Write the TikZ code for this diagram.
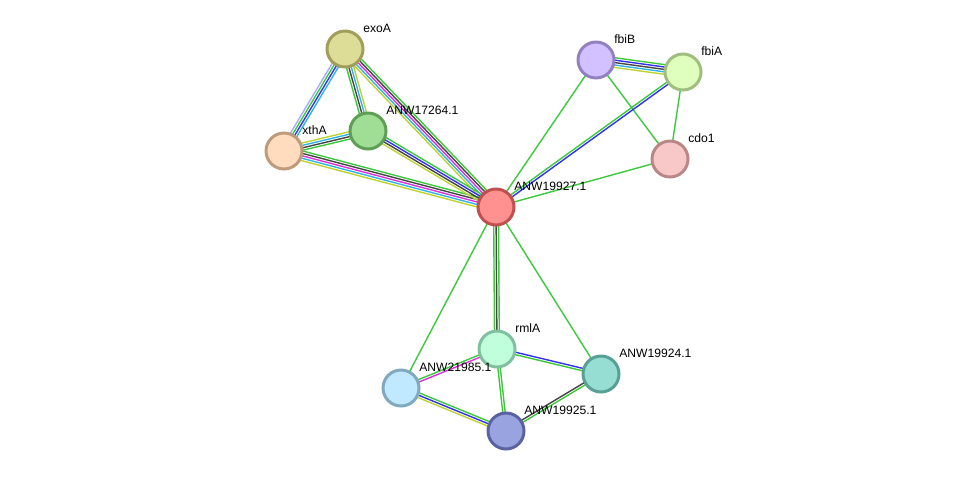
\documentclass[tikz,border=0pt]{standalone}
\usepackage{fontspec}
\setmainfont{Liberation Sans}
\usetikzlibrary{calc,backgrounds}

% evidence channel colours
\definecolor{evgreen}{RGB}{61,200,61}
\definecolor{evblue}{RGB}{50,50,240}
\definecolor{evblack}{RGB}{70,70,70}
\definecolor{evmagenta}{RGB}{220,50,220}
\definecolor{evcyan}{RGB}{50,180,230}
\definecolor{evyellow}{RGB}{190,210,50}
\definecolor{evlavender}{RGB}{170,170,255}
% protein fills and rims
\definecolor{exoAfill}{RGB}{222,221,151}    \definecolor{exoAdraw}{RGB}{160,158,90}
\definecolor{anwAfill}{RGB}{160,222,150}    \definecolor{anwAdraw}{RGB}{94,158,85}
\definecolor{xthAfill}{RGB}{255,220,190}    \definecolor{xthAdraw}{RGB}{190,155,125}
\definecolor{hubfill}{RGB}{255,145,145}     \definecolor{hubdraw}{RGB}{192,80,80}
\definecolor{fbiBfill}{RGB}{210,192,255}    \definecolor{fbiBdraw}{RGB}{146,128,192}
\definecolor{fbiAfill}{RGB}{222,255,190}    \definecolor{fbiAdraw}{RGB}{160,190,128}
\definecolor{cdofill}{RGB}{248,200,200}     \definecolor{cdodraw}{RGB}{185,135,135}
\definecolor{rmlAfill}{RGB}{192,255,220}    \definecolor{rmlAdraw}{RGB}{128,192,160}
\definecolor{anwBfill}{RGB}{192,232,255}    \definecolor{anwBdraw}{RGB}{128,168,192}
\definecolor{anwCfill}{RGB}{150,222,212}    \definecolor{anwCdraw}{RGB}{88,160,150}
\definecolor{anwDfill}{RGB}{153,163,224}    \definecolor{anwDdraw}{RGB}{90,98,160}

% one line per evidence colour, side by side
\newcommand\evlink[3]{%
  \foreach \col [count=\i] in {#3} {\xdef\nlines{\i}}%
  \foreach \col [count=\i] in {#3} {%
    \pgfmathsetmacro\off{(\i-(\nlines+1)/2)*1.37}%
    \draw[\col,evline] ($(#1.center)!\off pt!90:(#2.center)$) -- ($(#2.center)!\off pt!-90:(#1.center)$);
  }}

\begin{document}
\begin{tikzpicture}[x=0.02cm,y=-0.02cm,
  every node/.style={font=\fontsize{6.9}{8}\selectfont},
  prot/.style={circle,fill=#1fill,draw=#1draw,line width=1.7pt,minimum size=0.72cm,inner sep=0},
  lbl/.style={anchor=west,inner sep=0,xshift=0.36cm,yshift=0.03cm},
  evline/.style={line width=0.8pt}]
  \useasboundingbox (0,0) rectangle (976,477);
  \node[prot=exoA,label={[lbl]exoA}] (exoA) at (345,49) {};
  \node[prot=anwA,label={[lbl]ANW17264.1}] (anw17264) at (368,131) {};
  \node[prot=xthA,label={[lbl]xthA}] (xthA) at (284,151) {};
  \node[prot=hub,label={[lbl]ANW19927.1}] (anw19927) at (496,207) {};
  \node[prot=fbiB,label={[lbl]fbiB}] (fbiB) at (596,60) {};
  \node[prot=fbiA,label={[lbl]fbiA}] (fbiA) at (683,72) {};
  \node[prot=cdo,label={[lbl]cdo1}] (cdo1) at (670,159) {};
  \node[prot=rmlA,label={[lbl]rmlA}] (rmlA) at (497,349) {};
  \node[prot=anwB,label={[lbl]ANW21985.1}] (anw21985) at (401,388) {};
  \node[prot=anwC,label={[lbl]ANW19924.1}] (anw19924) at (601,374) {};
  \node[prot=anwD,label={[lbl]ANW19925.1}] (anw19925) at (506,431) {};
  \begin{pgfonlayer}{background}
    \evlink{exoA}{xthA}{evlavender,evgreen,evblue,evcyan}
    \evlink{exoA}{anw17264}{evgreen,evblack,evcyan,evyellow}
    \evlink{exoA}{anw19927}{evyellow,evcyan,evmagenta,evblack,evgreen}
    \evlink{xthA}{anw17264}{evgreen,evblack,evcyan,evyellow}
    \evlink{xthA}{anw19927}{evyellow,evcyan,evmagenta,evblack,evgreen}
    \evlink{anw17264}{anw19927}{evyellow,evblack,evblue,evgreen}
    \evlink{fbiB}{fbiA}{evyellow,evcyan,evblack,evblue,evgreen}
    \evlink{fbiB}{anw19927}{evgreen}
    \evlink{fbiB}{cdo1}{evgreen}
    \evlink{fbiA}{cdo1}{evgreen}
    \evlink{fbiA}{anw19927}{evgreen,evblue}
    \evlink{cdo1}{anw19927}{evgreen}
    \evlink{anw19927}{rmlA}{evgreen,evblack,evgreen}
    \evlink{anw19927}{anw21985}{evgreen}
    \evlink{anw19927}{anw19924}{evgreen}
    \evlink{rmlA}{anw21985}{evgreen,evmagenta}
    \evlink{rmlA}{anw19924}{evgreen,evblue}
    \evlink{rmlA}{anw19925}{evgreen,evgreen}
    \evlink{anw21985}{anw19925}{evyellow,evblue,evgreen}
    \evlink{anw19925}{anw19924}{evgreen,evblack}
  \end{pgfonlayer}
\end{tikzpicture}
\end{document}
